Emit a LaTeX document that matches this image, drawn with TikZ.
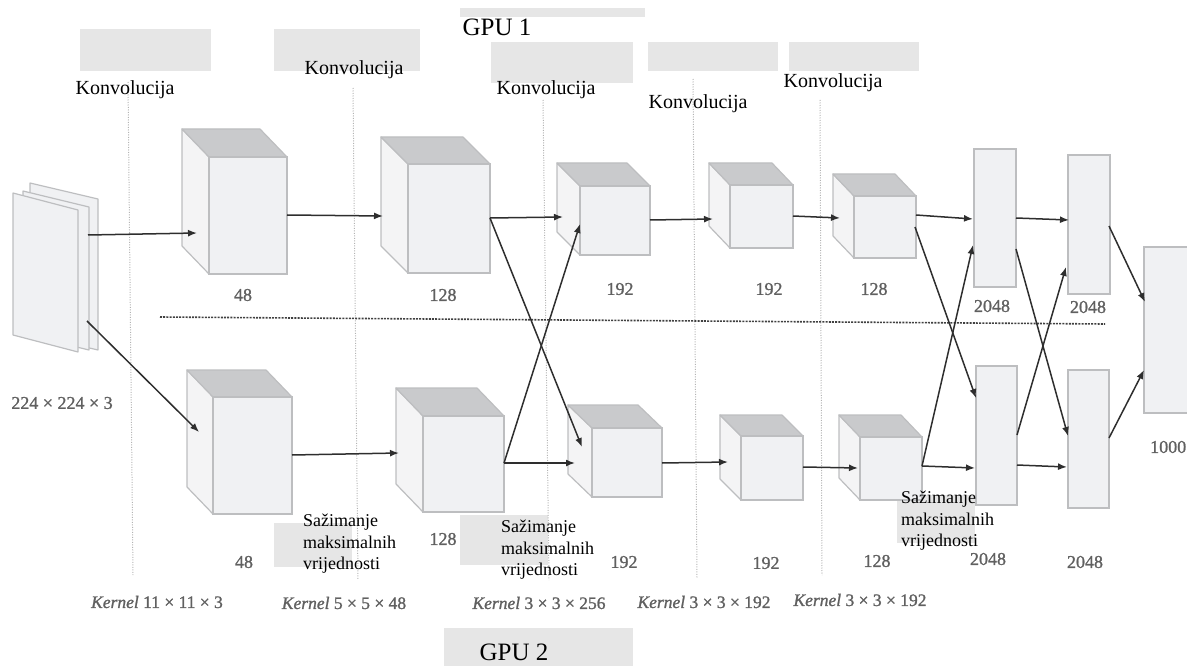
\documentclass[tikz,border=0pt]{standalone}
\usepackage{fontspec}
\setmainfont{Liberation Serif}
\newfontfamily\numfont[FakeBold=1.2]{Liberation Serif}
\usetikzlibrary{arrows.meta,calc}
\definecolor{edgec}{HTML}{BDBEC0}
\definecolor{frontc}{HTML}{F0F1F3}
\definecolor{sidec}{HTML}{F4F4F5}
\definecolor{topc}{HTML}{C9CACC}
\definecolor{boxc}{HTML}{E6E6E6}
\definecolor{numc}{HTML}{606060}
\definecolor{arrc}{HTML}{2E2E2E}
\tikzset{
  face/.style={draw=edgec, fill=frontc, line width=1.2pt, inner sep=0pt, outer sep=0pt},
  sideface/.style={draw=edgec, fill=sidec, line width=1.2pt, line join=round},
  topface/.style={draw=edgec, fill=topc, line width=1.2pt, line join=round},
  conn/.style={draw=arrc, line width=1.5pt, -{Latex[length=9pt,width=7pt]}},
  vdot/.style={draw=black!30, line width=1pt, dash pattern=on 1pt off 1.5pt},
  hdot/.style={draw=black!75, line width=1.6pt, dash pattern=on 2pt off 1.2pt},
  graybox/.style={fill=boxc, draw=none},
  conv/.style={font=\fontsize{20}{22}\selectfont, inner sep=0pt},
  gpu/.style={font=\fontsize{25}{27}\selectfont, inner sep=0pt},
  num/.style={font=\numfont\fontsize{18}{20}\selectfont, text=numc, inner sep=0pt},
  kern/.style={font=\numfont\fontsize{17.5}{20}\selectfont, text=numc, inner sep=0pt},
  pool/.style={font=\fontsize{18}{21.5}\selectfont, align=left, inner sep=0pt, anchor=north west},
}
% cube: name, x1, y1, x2, y2 (front face), dx, dy (depth offset)
\newcommand\mycube[7]{%
  \pgfmathsetmacro\cw{#4-#2}\pgfmathsetmacro\ch{#5-#3}%
  \coordinate (#1-nw) at (#2,#3);
  \coordinate (#1-ne) at (#4,#3);
  \coordinate (#1-sw) at (#2,#5);
  \path[sideface] (#1-nw) -- ++(#6,#7) -- ($(#1-sw)+(#6,#7)$) -- (#1-sw) -- cycle;
  \path[topface] (#1-nw) -- ++(#6,#7) -- ($(#1-ne)+(#6,#7)$) -- (#1-ne) -- cycle;
  \node[face, minimum width=\cw pt, minimum height=\ch pt] (#1) at ({(#2+#4)/2},{(#3+#5)/2}) {};
}
\newcommand\myfc[5]{%
  \pgfmathsetmacro\cw{#4-#2}\pgfmathsetmacro\ch{#5-#3}%
  \node[face, minimum width=\cw pt, minimum height=\ch pt] (#1) at ({(#2+#4)/2},{(#3+#5)/2}) {};
}
\newcommand\myconn[3]{%
  \coordinate (#1-s) at (#2);
  \coordinate (#1-e) at (#3);
  \draw[conn] (#1-s) -- (#1-e);
}
\begin{document}
\begin{tikzpicture}[x=1pt,y=-1pt]
\useasboundingbox (0,0) rectangle (1187,666);

% gray boxes
\fill[graybox] (80,29) rectangle (211,71);
\fill[graybox] (274,29) rectangle (420,71);
\fill[graybox] (460,8) rectangle (645,17);
\fill[graybox] (491,42) rectangle (633,83);
\fill[graybox] (648,42) rectangle (778,71);
\fill[graybox] (789,42) rectangle (919,71);
\fill[graybox] (444,628) rectangle (633,666);
\fill[graybox] (274,523) rectangle (352,567);
\fill[graybox] (460,515) rectangle (548,565);
\fill[graybox] (897,495) rectangle (975,543);

% dotted separators
\coordinate (v1a) at (128,82);  \coordinate (v1b) at (133,575);
\coordinate (v2a) at (353,88);  \coordinate (v2b) at (358,580);
\coordinate (v3a) at (543,100); \coordinate (v3b) at (549,580);
\coordinate (v4a) at (693,79);  \coordinate (v4b) at (697,578);
\coordinate (v5a) at (820,100); \coordinate (v5b) at (822,575);
\draw[vdot] (v1a) -- (v1b);
\draw[vdot] (v2a) -- (v2b);
\draw[vdot] (v3a) -- (v3b);
\draw[vdot] (v4a) -- (v4b);
\draw[vdot] (v5a) -- (v5b);
\coordinate (ha) at (160,317); \coordinate (hb) at (1105,324);
\draw[hdot] (ha) -- (hb);

% input stack
\filldraw[draw=edgec, fill=frontc, line width=1.2pt, line join=round] (30,183) -- (98,199) -- (98,350) -- (30,334) -- cycle;
\filldraw[draw=edgec, fill=frontc, line width=1.2pt, line join=round] (23,191) -- (89,207) -- (89,350) -- (23,334) -- cycle;
\filldraw[draw=edgec, fill=frontc, line width=1.2pt, line join=round] (13,193) -- (78,210) -- (78,352) -- (13,335) -- cycle;

% cubes
\mycube{U1}{209}{157}{287}{274}{-27}{-28}
\mycube{U2}{408}{164}{490}{273}{-27}{-27}
\mycube{U3}{580}{186}{650}{255}{-23}{-23}
\mycube{U4}{730}{185}{793}{248}{-21}{-22}
\mycube{U5}{854}{196}{916}{258}{-21}{-22}
\mycube{L1}{213}{397}{292}{514}{-26}{-27}
\mycube{L2}{423}{416}{504}{512}{-27}{-28}
\mycube{L3}{592}{428}{662}{497}{-24}{-23}
\mycube{L4}{741}{436}{803}{500}{-21}{-21}
\mycube{L5}{860}{437}{922}{500}{-21}{-22}

% fully connected
\myfc{UF1}{974}{149}{1016}{287}
\myfc{UF2}{1068}{155}{1110}{294}
\myfc{LF1}{976}{366}{1017}{505}
\myfc{LF2}{1068}{370}{1109}{508}
\myfc{OUT}{1144}{247}{1192}{413}

% connectors
\myconn{a1}{88,235}{197,233}
\myconn{a2}{87,321}{199,432}
\myconn{a3}{287,215}{383,216}
\myconn{a4}{292,455}{399,453}
\myconn{a5}{490,218}{563,217}
\myconn{a6}{490,218}{582,447}
\myconn{a7}{504,463}{580,224}
\myconn{a8}{504,463}{575,463}
\myconn{a9}{650,220}{713,219}
\myconn{a10}{662,463}{728,462}
\myconn{a11}{793,216}{840,218}
\myconn{a12}{803,467}{858,468}
\myconn{a13}{916,215}{973,219}
\myconn{a14}{915,227}{976,398}
\myconn{a15}{922,466}{975,468}
\myconn{a16}{922,466}{973,245}
\myconn{a17}{1016,218}{1069,220}
\myconn{a18}{1016,249}{1068,436}
\myconn{a19}{1017,435}{1066,267}
\myconn{a20}{1017,465}{1067,467}
\myconn{a21}{1109,226}{1145,302}
\myconn{a22}{1109,438}{1144,370}

% titles
\node[gpu] (g1) at (497,27) {GPU 1};
\node[gpu] (g2) at (514,652) {GPU 2};
\node[conv] (k1) at (125,90) {Konvolucija};
\node[conv] (k2) at (354,70) {Konvolucija};
\node[conv] (k3) at (546,90) {Konvolucija};
\node[conv] (k4) at (698,104) {Konvolucija};
\node[conv] (k5) at (833,83) {Konvolucija};

% sizes
\node[num] (n0) at (62,403) {224 × 224 × 3};
\node[num] (n1) at (243,295) {48};
\node[num] (n2) at (443,295) {128};
\node[num] (n3) at (620,289) {192};
\node[num] (n4) at (769,289) {192};
\node[num] (n5) at (874,289) {128};
\node[num] (n6) at (992,306) {2048};
\node[num] (n7) at (1088,307) {2048};
\node[num, anchor=west] (n8) at (1150,447) {1000};
\node[num] (m1) at (244,562) {48};
\node[num] (m2) at (443,539) {128};
\node[num] (m3) at (624,562) {192};
\node[num] (m4) at (766,563) {192};
\node[num] (m5) at (877,561) {128};
\node[num] (m6) at (988,559) {2048};
\node[num] (m7) at (1085,562) {2048};

% kernels
\node[kern] (q1) at (157,602) {\textit{Kernel} 11 × 11 × 3};
\node[kern] (q2) at (344,603) {\textit{Kernel} 5 × 5 × 48};
\node[kern] (q3) at (539,603) {\textit{Kernel} 3 × 3 × 256};
\node[kern] (q4) at (704,602) {\textit{Kernel} 3 × 3 × 192};
\node[kern] (q5) at (860,600) {\textit{Kernel} 3 × 3 × 192};

% pooling labels
\node[pool] (p1) at (303,514) {Sažimanje\\maksimalnih\\vrijednosti};
\node[pool] (p2) at (501,520) {Sažimanje\\maksimalnih\\vrijednosti};
\node[pool] (p3) at (901,491) {Sažimanje\\maksimalnih\\vrijednosti};
\end{tikzpicture}
\end{document}
